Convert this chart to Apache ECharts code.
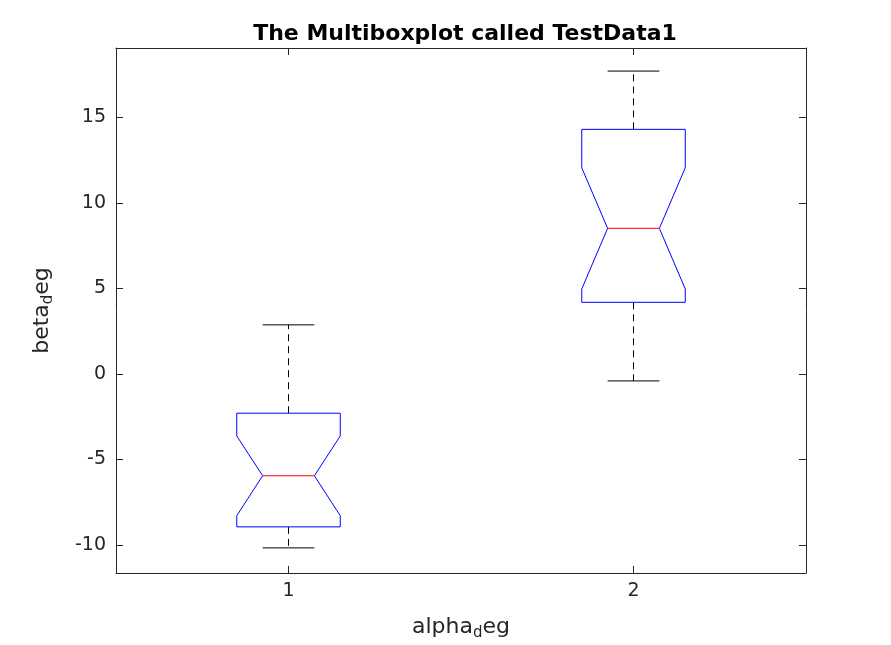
<!DOCTYPE html>
<html>
<head>
<meta charset="utf-8">
<script src="https://cdn.jsdelivr.net/npm/echarts@6/dist/echarts.min.js"></script>
<style>html,body{margin:0;padding:0;background:#fff;}#main{width:891px;height:645px;}</style>
</head>
<body>
<div id="main"></div>
<script>
var groups = [1, 2];
var whiskerLow = [-10.18, -0.41];
var q1 = [-8.95, 4.19];
var notchLow = [-8.30, 4.97];
var median = [-5.96, 8.52];
var notchHigh = [-3.63, 12.06];
var q3 = [-2.30, 14.31];
var whiskerHigh = [2.87, 17.72];
var yTicks = [-10, -5, 0, 5, 10, 15];

var boxData = groups.map(function (g, i) {
    return [g, whiskerLow[i], q1[i], notchLow[i], median[i], notchHigh[i], q3[i], whiskerHigh[i]];
});

function renderBox(params, api) {
    var x = api.value(0);
    var bw = 0.15, nw = 0.075, cw = 0.075;
    function p(dx, v) { return api.coord([x + dx, v]); }
    var wl = api.value(1), a = api.value(2), nl = api.value(3), md = api.value(4),
        nh = api.value(5), b = api.value(6), wh = api.value(7);
    var outline = [p(-bw, a), p(bw, a), p(bw, nl), p(nw, md), p(bw, nh), p(bw, b),
                   p(-bw, b), p(-bw, nh), p(-nw, md), p(-bw, nl)];
    var dash = { stroke: '#000', lineWidth: 1, lineDash: [7, 5] };
    var solid = { stroke: '#000', lineWidth: 1 };
    return {
        type: 'group',
        children: [
            { type: 'line', shape: { x1: p(0, b)[0], y1: p(0, b)[1], x2: p(0, wh)[0], y2: p(0, wh)[1] }, style: dash },
            { type: 'line', shape: { x1: p(0, a)[0], y1: p(0, a)[1], x2: p(0, wl)[0], y2: p(0, wl)[1] }, style: dash },
            { type: 'line', shape: { x1: p(-cw, wh)[0], y1: p(-cw, wh)[1], x2: p(cw, wh)[0], y2: p(cw, wh)[1] }, style: solid },
            { type: 'line', shape: { x1: p(-cw, wl)[0], y1: p(-cw, wl)[1], x2: p(cw, wl)[0], y2: p(cw, wl)[1] }, style: solid },
            { type: 'polygon', shape: { points: outline }, style: { fill: '#fff', stroke: '#0000ff', lineWidth: 1 } },
            { type: 'line', shape: { x1: p(-nw, md)[0], y1: p(-nw, md)[1], x2: p(nw, md)[0], y2: p(nw, md)[1] }, style: { stroke: '#ff0000', lineWidth: 1 } }
        ]
    };
}

var font = 'DejaVu Sans';
var axisCommon = {
    axisLine: { show: true, onZero: false, lineStyle: { color: '#262626' } },
    axisTick: { inside: true, length: 7, lineStyle: { color: '#262626' } },
    splitLine: { show: false }
};
var nameRich = {
    a: { fontSize: 22, color: '#262626', fontFamily: font },
    s: { fontSize: 15, color: '#262626', fontFamily: font, padding: [13, 0, 0, 0] }
};

var chart = echarts.init(document.getElementById('main'));
chart.setOption({
    animation: false,
    textStyle: { fontFamily: font },
    title: {
        text: 'The Multiboxplot called TestData1',
        left: 460, top: 18, textAlign: 'center',
        textStyle: { fontFamily: font, fontSize: 22, fontWeight: 'bold', color: '#000' }
    },
    grid: { left: 116, right: 85, top: 48, bottom: 72, outerBoundsMode: 'none' },
    xAxis: [
        Object.assign({
            type: 'value', min: 0.5, max: 2.5, position: 'bottom',
            name: '{a|alpha}{s|d}{a|eg}', nameLocation: 'middle', nameGap: 40,
            nameTextStyle: { rich: nameRich },
            axisLabel: { customValues: groups, fontSize: 19, color: '#262626', margin: 9 }
        }, axisCommon, { axisTick: Object.assign({ customValues: groups }, axisCommon.axisTick) }),
        Object.assign({
            type: 'value', min: 0.5, max: 2.5, position: 'top',
            axisLabel: { show: false }
        }, axisCommon, { axisTick: Object.assign({ customValues: groups }, axisCommon.axisTick) })
    ],
    yAxis: [
        Object.assign({
            type: 'value', min: -11.65, max: 19.07, position: 'left',
            name: '{a|beta}{s|d}{a|eg}', nameLocation: 'middle', nameGap: 60, nameRotate: 90,
            nameTextStyle: { rich: nameRich },
            axisLabel: { customValues: yTicks, fontSize: 19, color: '#262626', margin: 10 }
        }, axisCommon, { axisTick: Object.assign({ customValues: yTicks }, axisCommon.axisTick) }),
        Object.assign({
            type: 'value', min: -11.65, max: 19.07, position: 'right',
            axisLabel: { show: false }
        }, axisCommon, { axisTick: Object.assign({ customValues: yTicks }, axisCommon.axisTick) })
    ],
    series: [{
        type: 'custom',
        renderItem: renderBox,
        data: boxData,
        encode: { x: 0, y: [1, 7] },
        clip: false
    }]
});
</script>
</body>
</html>
